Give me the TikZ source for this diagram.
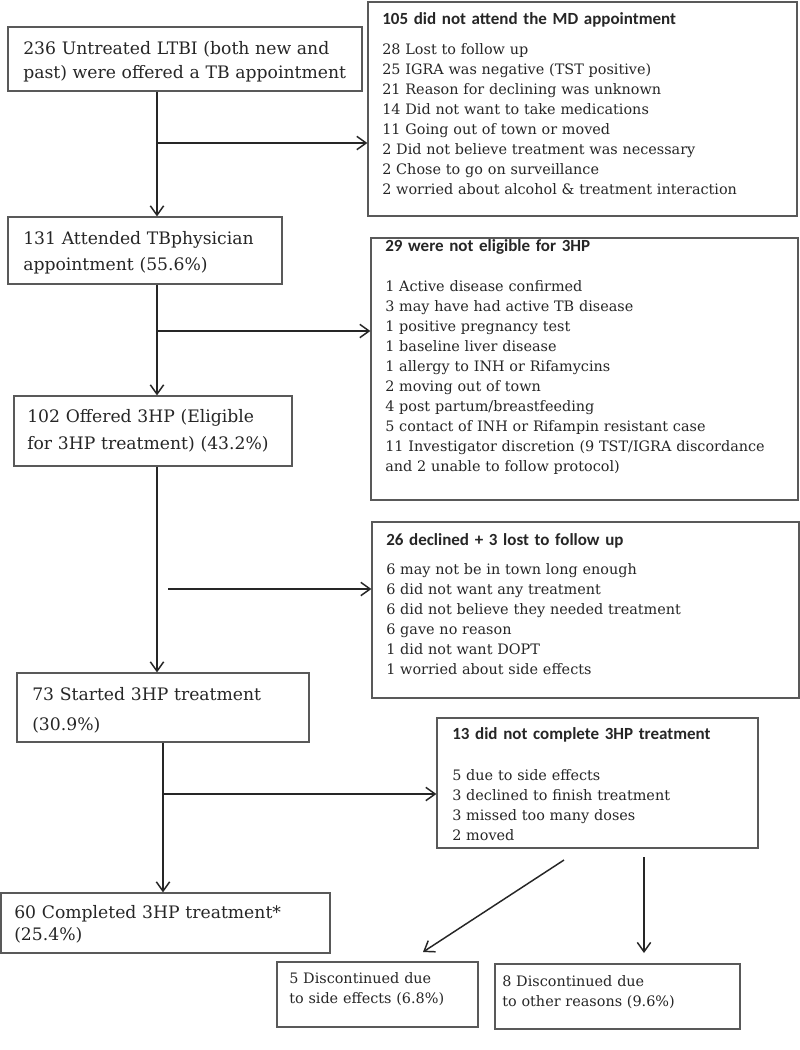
\documentclass[tikz,border=0pt]{standalone}
\usepackage{fontspec}
\setmainfont{DejaVu Serif}
\newfontfamily\headfont{Carlito}
\usetikzlibrary{arrows.meta,fit}
\begin{document}
\begin{tikzpicture}[x=0.75pt,y=-0.75pt,
  box/.style={draw=black!65,line width=0.9pt,inner sep=0pt,rectangle},
  txt/.style={anchor=base west,inner sep=0pt,text width=440pt,align=left,text=black!85},
  mtxt/.style={txt,font=\fontsize{12.9pt}{#1}\selectfont},
  stxt/.style={txt,font=\fontsize{10.8pt}{15pt}\selectfont},
  htxt/.style={txt,font=\headfont\bfseries\fontsize{12.75pt}{15pt}\selectfont},
  arr/.style={draw=black!85,line width=1.1pt,-{Straight Barb[length=7pt,width=10pt,line width=1.1pt]}}
]
\useasboundingbox (0,0) rectangle (800,1050);
\fill[white] (0,0) rectangle (800,1050);

% boxes
\node[box,fit={(8,27) (362,91)}] (b1) {};
\node[box,fit={(368,2) (797,216)}] (r1) {};
\node[box,fit={(8,217) (282,284)}] (b2) {};
\node[box,fit={(371,238) (798,500)}] (r2) {};
\node[box,fit={(14,396) (292,466)}] (b3) {};
\node[box,fit={(372,522) (799,698)}] (r3) {};
\node[box,fit={(17,673) (309,742)}] (b4) {};
\node[box,fit={(437,718) (758,848)}] (r4) {};
\node[box,fit={(1,893) (330,953)}] (b5) {};
\node[box,fit={(277,962) (478,1027)}] (d1) {};
\node[box,fit={(495,964) (740,1029)}] (d2) {};

% texts
\node[mtxt=18pt] (b1t) at (23,54) {236 Untreated LTBI (both new and\\past) were offered a TB appointment};
\node[htxt] (r1h) at (382,24) {105 did not attend the MD appointment};
\node[stxt] (r1b) at (382,54) {28 Lost to follow up\\25 IGRA was negative (TST positive)\\21 Reason for declining was unknown\\14 Did not want to take medications\\11 Going out of town or moved\\2 Did not believe treatment was necessary\\2 Chose to go on surveillance\\2 worried about alcohol \& treatment interaction};

\node[mtxt=19.5pt] (b2t) at (23,244) {131 Attended TBphysician\\appointment (55.6\%)};
\node[htxt] (r2h) at (385,251) {29 were not eligible for 3HP};
\node[stxt] (r2b) at (385,291) {1 Active disease confirmed\\3 may have had active TB disease\\1 positive pregnancy test\\1 baseline liver disease\\1 allergy to INH or Rifamycins\\2 moving out of town\\4 post partum/breastfeeding\\5 contact of INH or Rifampin resistant case\\11 Investigator discretion (9 TST/IGRA discordance\\and 2 unable to follow protocol)};

\node[mtxt=20.25pt] (b3t) at (27,422) {102 Offered 3HP (Eligible\\for 3HP treatment) (43.2\%)};
\node[htxt] (r3h) at (386,545) {26 declined + 3 lost to follow up};
\node[stxt] (r3b) at (386,574) {6 may not be in town long enough\\6 did not want any treatment\\6 did not believe they needed treatment\\6 gave no reason\\1 did not want DOPT\\1 worried about side effects};

\node[mtxt=22.5pt] (b4t) at (32,700) {73 Started 3HP treatment\\(30.9\%)};
\node[htxt] (r4h) at (452,739) {13 did not complete 3HP treatment};
\node[stxt] (r4b) at (452,780) {5 due to side effects\\3 declined to finish treatment\\3 missed too many doses\\2 moved};

\node[mtxt=16.5pt] (b5t) at (14,918) {60 Completed 3HP treatment*\\(25.4\%)};
\node[stxt] (d1t) at (289,983) {5 Discontinued due\\to side effects (6.8\%)};
\node[stxt] (d2t) at (502,986) {8 Discontinued due\\to other reasons (9.6\%)};

% connectors
\coordinate (s1) at (157,0);
\coordinate (s2) at (163,0);
\coordinate (j1) at (157,143);
\coordinate (j2) at (157,331);
\coordinate (j3) at (168,589);
\coordinate (j4) at (163,794);
\coordinate (q1) at (564,860);
\coordinate (q2) at (423,952);
\coordinate (q3) at (644,857);
\coordinate (q4) at (644,953);

\draw[arr] (s1 |- b1.south) -- (s1 |- b2.north);
\draw[arr] (j1) -- (j1 -| r1.west);
\draw[arr] (s1 |- b2.south) -- (s1 |- b3.north);
\draw[arr] (j2) -- (j2 -| r2.west);
\draw[arr] (s1 |- b3.south) -- (s1 |- b4.north);
\draw[arr] (j3) -- (j3 -| r3.west);
\draw[arr] (s2 |- b4.south) -- (s2 |- b5.north);
\draw[arr] (j4) -- (j4 -| r4.west);
\draw[arr] (q1) -- (q2);
\draw[arr] (q3) -- (q4);
\end{tikzpicture}
\end{document}
